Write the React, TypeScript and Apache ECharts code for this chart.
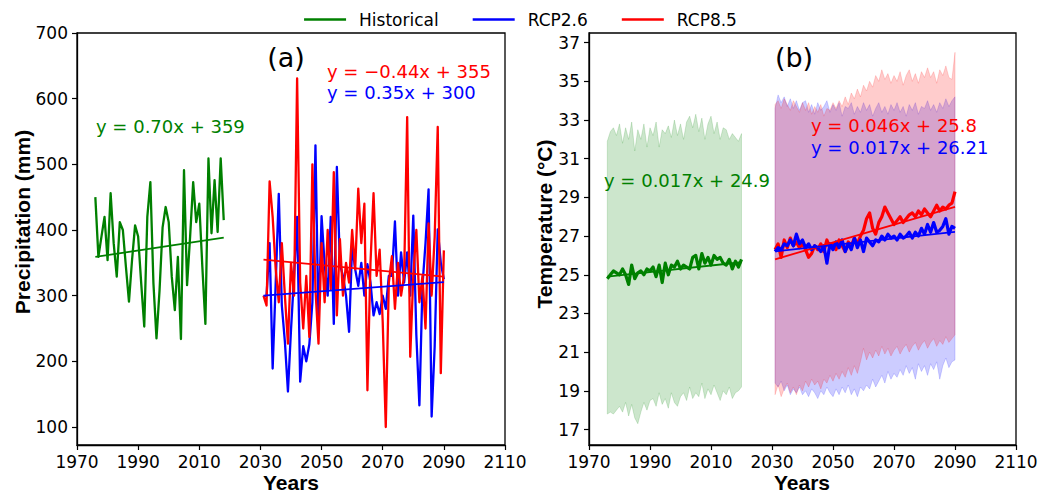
import React, { useEffect, useRef } from "react";
import * as echarts from "echarts";

// ---- axis ticks ----
const yearTicks = [1970, 1990, 2010, 2030, 2050, 2070, 2090, 2110];
const precipTicks = [100, 200, 300, 400, 500, 600, 700];
const tempTicks = [17, 19, 21, 23, 25, 27, 29, 31, 33, 35, 37];

// ---- periods ----
const histPrecipPeriod = [1976, 2018];
const histTempPeriod = [1976, 2020];
const futurePeriod = [2031, 2090];

// ---- annual precipitation (mm) ----
const histPrecip = [
  450, 359, 390, 420, 354, 456, 380, 329, 412, 400,
  344, 291, 354, 407, 390, 319, 253, 420, 473, 319,
  235, 308, 404, 435, 412, 329, 278, 359, 234, 491,
  316, 390, 473, 412, 440, 344, 257, 509, 395, 476,
  397, 509, 415,
];
const rcp26Precip = [
  298, 300, 380, 189, 320, 455, 285, 230, 154, 248,
  330, 420, 169, 223, 200, 226, 290, 529, 257, 421,
  348, 300, 420, 257, 496, 348, 330, 300, 245, 376,
  340, 315, 350, 300, 348, 320, 270, 290, 272, 300,
  280, 330, 330, 413, 300, 366, 320, 366, 300, 422,
  240, 133, 315, 380, 462, 116, 223, 401, 350, 325,
];
const rcp85Precip = [
  300, 285, 474, 420, 340, 290, 380, 300, 227, 350,
  300, 631, 320, 250, 330, 237, 500, 310, 227, 380,
  290, 400, 310, 488, 270, 386, 300, 350, 320, 400,
  340, 463, 380, 440, 156, 350, 456, 330, 370, 260,
  100, 320, 360, 280, 350, 300, 330, 572, 207, 330,
  400, 290, 330, 250, 410, 300, 390, 557, 182, 369,
];

// ---- annual mean temperature (°C) with ensemble range ----
const histTemp = [
  24.8, 25.0, 25.2, 25.1, 25.0, 25.3, 25.0, 24.5, 25.5, 24.8,
  25.1, 25.2, 25.0, 25.3, 25.2, 25.4, 24.9, 25.5, 24.6, 25.6,
  25.0, 25.5, 25.4, 25.7, 25.3, 25.5, 25.4, 25.3, 25.9, 26.0,
  25.3, 26.1, 25.6, 25.9, 25.5, 26.0, 25.8, 25.9, 25.6, 25.5,
  25.8, 25.3, 25.7, 25.4, 25.8,
];
const histTempMax = [
  31.9, 32.4, 32.6, 32.2, 32.8, 31.8, 32.6, 32.0, 32.9, 31.4,
  32.5, 32.0, 32.8, 31.6, 32.6, 32.2, 32.9, 31.6, 32.5, 32.3,
  32.7, 32.1, 33.0, 32.2, 32.8, 32.0, 32.9, 33.2, 32.6, 33.3,
  32.4, 33.1, 32.0, 32.8, 33.2, 32.3, 32.9, 32.0, 32.6, 32.5,
  32.0, 32.3, 32.1, 31.9, 32.3,
];
const histTempMin = [
  17.8, 17.9, 17.8, 18.0, 18.2, 17.9, 18.4, 17.7, 18.3, 17.6,
  17.3, 17.9, 18.4, 18.0, 18.5, 18.6, 18.2, 18.9, 18.3, 18.6,
  18.1, 18.9, 18.4, 18.2, 18.7, 18.9, 18.5, 19.2, 18.6, 18.9,
  18.7, 19.4, 18.6, 19.1, 18.8, 19.3, 18.9, 18.5, 19.0, 18.8,
  19.2, 18.6, 18.9, 19.0, 19.2,
];
const rcp26Temp = [
  26.2, 26.4, 26.3, 26.6, 26.5, 26.8, 26.5, 27.1, 26.6, 26.8,
  26.4, 26.6, 26.3, 26.5, 26.4, 26.2, 26.5, 25.6, 26.6, 26.3,
  26.7, 26.4, 26.8, 26.2, 26.6, 26.3, 26.9, 26.4, 26.8, 26.2,
  26.9, 26.7, 26.5, 26.8, 26.7, 27.0, 26.8, 27.1, 26.9, 27.0,
  26.8, 27.1, 26.9, 27.0, 27.2, 26.9, 27.2, 27.0, 27.4, 27.1,
  27.6, 27.2, 27.7, 27.2, 27.3, 27.5, 27.9, 27.1, 27.5, 27.4,
];
const rcp26TempMax = [
  33.6, 34.3, 33.9, 34.2, 33.7, 34.1, 33.6, 34.0, 33.5, 33.9,
  34.0, 33.4, 33.8, 33.3, 33.9, 33.5, 33.7, 34.0, 33.4, 33.8,
  33.5, 33.9, 33.2, 33.7, 33.6, 33.9, 33.3, 33.7, 33.4, 33.9,
  33.5, 33.8, 33.2, 33.6, 33.9, 33.4, 33.7, 33.3, 33.8, 33.5,
  33.9, 33.4, 33.7, 33.2, 33.8, 33.5, 33.9, 33.3, 33.7, 33.6,
  34.0, 33.5, 33.8, 33.4, 33.9, 33.6, 34.1, 33.7, 34.0, 34.2,
];
const rcp26TempMin = [
  19.4, 19.2, 19.5, 19.0, 19.3, 18.8, 19.1, 18.9, 19.2, 18.8,
  19.0, 18.7, 19.1, 18.9, 18.6, 19.0, 18.8, 19.2, 18.9, 18.7,
  19.1, 18.8, 19.2, 18.9, 19.3, 18.8, 19.1, 18.7, 19.2, 19.0,
  19.3, 19.1, 19.6, 19.2, 19.5, 19.8, 19.4, 20.0, 19.6, 19.9,
  19.7, 20.1, 19.8, 20.3, 19.9, 20.2, 19.6, 20.4, 20.0, 20.3,
  19.8, 20.4, 20.1, 20.5, 19.6, 20.3, 20.7, 20.2, 20.5, 20.6,
];
const rcp85Temp = [
  26.3, 26.6, 25.9, 26.8, 26.4, 26.9, 26.5, 26.7, 26.4, 26.6,
  26.3, 25.9, 26.1, 26.5, 26.3, 26.6, 26.2, 26.8, 26.4, 26.6,
  26.3, 26.8, 26.5, 26.2, 26.7, 26.5, 26.9, 26.6, 27.0, 27.3,
  27.9, 28.2, 27.4, 27.1, 27.7, 28.0, 28.5, 28.2, 27.9, 27.6,
  27.8, 28.0, 27.7, 27.9, 28.1, 28.2, 28.0, 28.3, 28.1, 28.4,
  28.2, 28.0, 28.3, 28.6, 28.3, 28.5, 28.4, 28.6, 28.7, 29.3,
];
const rcp85TempMax = [
  33.8, 34.0, 33.6, 34.1, 33.8, 33.5, 34.0, 33.7, 33.4, 33.9,
  33.5, 33.9, 33.3, 33.7, 33.4, 33.8, 33.2, 33.6, 33.5, 33.9,
  33.6, 34.0, 33.7, 34.2, 33.8, 34.4, 34.1, 34.6, 34.2, 34.8,
  34.5, 35.0, 34.7, 35.3, 35.0, 35.6, 35.1, 35.4, 34.9, 35.3,
  35.0, 35.5, 34.8, 35.3, 35.6, 35.0, 35.4, 34.9, 35.5, 35.2,
  35.7, 35.2, 35.5, 34.9, 35.6, 35.3, 35.8, 35.2, 35.1, 36.5,
];
const rcp85TempMin = [
  18.8, 19.3, 18.7, 19.1, 19.4, 18.9, 19.2, 18.8, 19.3, 19.0,
  19.5, 19.2, 19.6, 19.3, 19.5, 19.1, 19.6, 19.4, 19.8, 19.5,
  19.9, 19.6, 20.0, 19.7, 20.2, 19.8, 20.3, 19.9, 20.5, 21.2,
  20.6, 21.0, 20.7, 21.1, 20.8, 21.3, 20.9, 21.2, 20.8, 21.1,
  21.3, 20.9, 21.2, 21.4, 21.0, 21.3, 21.5, 21.1, 21.4, 21.6,
  21.2, 21.5, 21.7, 21.3, 21.6, 21.4, 21.8, 21.5, 21.7, 21.9,
];

// ---- linear fits: [slope per year index, intercept] ----
const histPrecipFit = [0.7, 359];
const rcp26PrecipFit = [0.35, 300];
const rcp85PrecipFit = [-0.44, 355];
const histTempFit = [0.017, 24.9];
const rcp26TempFit = [0.017, 26.21];
const rcp85TempFit = [0.046, 25.8];

const GREEN = "#008000";
const BLUE = "#0000ff";
const RED = "#ff0000";
const TICK_FONT = "DejaVu Sans";
const TITLE_FONT = "Liberation Sans";

function span(period: number[]): number[] {
  const out: number[] = [];
  for (let y = period[0]; y <= period[1]; y++) out.push(y);
  return out;
}

function pairs(years: number[], vals: number[]) {
  return years.map((y, i) => [y, vals[i]]);
}

function fitEnds(years: number[], fit: number[]) {
  const n = years.length - 1;
  return [
    [years[0], fit[1]],
    [years[n], fit[0] * n + fit[1]],
  ];
}

function line(name: string, data: number[][], color: string, width: number, gi: number, z: number) {
  return {
    type: "line",
    name,
    xAxisIndex: gi,
    yAxisIndex: gi,
    data,
    symbol: "none",
    showSymbol: false,
    silent: true,
    lineStyle: { color, width, join: "round" },
    itemStyle: { color },
    z,
  };
}

function band(name: string, years: number[], upper: number[], lower: number[], fill: string, gi: number, z: number) {
  return {
    type: "custom",
    name,
    xAxisIndex: gi,
    yAxisIndex: gi,
    silent: true,
    z,
    data: [[years[0], upper[0]]],
    renderItem: (_params: any, api: any) => {
      const pts: number[][] = [];
      for (let i = 0; i < years.length; i++) pts.push(api.coord([years[i], upper[i]]));
      for (let i = years.length - 1; i >= 0; i--) pts.push(api.coord([years[i], lower[i]]));
      return {
        type: "polygon",
        shape: { points: pts },
        style: { fill, stroke: fill, lineWidth: 0.8 },
      };
    },
  };
}

function xAxis(gi: number) {
  return {
    type: "value",
    gridIndex: gi,
    min: 1970,
    max: 2110,
    splitLine: { show: false },
    axisLine: { show: true, lineStyle: { color: "#000", width: 1.3 } },
    axisTick: { show: true, customValues: yearTicks, length: 5, lineStyle: { color: "#000", width: 1.2 } },
    axisLabel: {
      customValues: yearTicks,
      formatter: (v: number) => String(v),
      color: "#000",
      fontSize: 17,
      fontFamily: TICK_FONT,
      margin: 8,
    },
  };
}

function yAxis(gi: number, min: number, max: number, ticks: number[]) {
  return {
    type: "value",
    gridIndex: gi,
    min,
    max,
    splitLine: { show: false },
    axisLine: { show: true, lineStyle: { color: "#000", width: 1.3 } },
    axisTick: { show: true, customValues: ticks, length: 5, lineStyle: { color: "#000", width: 1.2 } },
    axisLabel: {
      customValues: ticks,
      formatter: (v: number) => String(v),
      color: "#000",
      fontSize: 17,
      fontFamily: TICK_FONT,
      margin: 9,
    },
  };
}

function label(text: string, x: number, y: number, color: string, size: number, align = "left") {
  return {
    type: "text",
    x,
    y,
    silent: true,
    z: 100,
    style: {
      text,
      fill: color,
      fontSize: size,
      fontFamily: TICK_FONT,
      align,
      verticalAlign: "middle",
    },
  };
}

function title(text: string, x: number, y: number, rotation = 0) {
  return {
    type: "text",
    x,
    y,
    rotation,
    silent: true,
    z: 100,
    style: {
      text,
      fill: "#000",
      fontSize: 21,
      fontWeight: "bold",
      fontFamily: TITLE_FONT,
      align: "center",
      verticalAlign: "middle",
    },
  };
}

export default function App() {
  const ref = useRef<HTMLDivElement>(null);

  useEffect(() => {
    if (!ref.current) return;
    const chart = echarts.init(ref.current, null, { renderer: "svg" });

    const hpYears = span(histPrecipPeriod);
    const htYears = span(histTempPeriod);
    const fYears = span(futurePeriod);

    const option = {
      animation: false,
      backgroundColor: "#fff",
      textStyle: { fontFamily: TICK_FONT },
      legend: {
        data: ["Historical", "RCP2.6", "RCP8.5"],
        top: 6,
        left: "center",
        icon: "rect",
        itemWidth: 42,
        itemHeight: 2.5,
        itemGap: 34,
        selectedMode: false,
        textStyle: { color: "#000", fontSize: 17, fontFamily: TICK_FONT, padding: [0, 0, 0, 8] },
      },
      grid: [
        { left: 77, top: 33, width: 428, height: 412, show: true, borderColor: "#000", borderWidth: 1.3 },
        { left: 589, top: 33, width: 427, height: 412, show: true, borderColor: "#000", borderWidth: 1.3 },
      ],
      xAxis: [xAxis(0), xAxis(1)],
      yAxis: [yAxis(0, 72.6, 700, precipTicks), yAxis(1, 16.2, 37.5, tempTicks)],
      series: [
        // (a) precipitation
        line("Historical", pairs(hpYears, histPrecip), GREEN, 2.3, 0, 3),
        line("Historical", fitEnds(hpYears, histPrecipFit), GREEN, 1.8, 0, 4),
        line("RCP2.6", pairs(fYears, rcp26Precip), BLUE, 2.3, 0, 3),
        line("RCP8.5", pairs(fYears, rcp85Precip), RED, 2.3, 0, 4),
        line("RCP2.6", fitEnds(fYears, rcp26PrecipFit), BLUE, 1.8, 0, 5),
        line("RCP8.5", fitEnds(fYears, rcp85PrecipFit), RED, 1.8, 0, 5),
        // (b) temperature: ensemble range
        band("Historical range", htYears, histTempMax, histTempMin, "rgba(0,128,0,0.2)", 1, 1),
        band("RCP2.6 range", fYears, rcp26TempMax, rcp26TempMin, "rgba(0,0,255,0.2)", 1, 1),
        band("RCP8.5 range", fYears, rcp85TempMax, rcp85TempMin, "rgba(255,0,0,0.2)", 1, 2),
        // (b) temperature: mean and fit
        line("Historical", pairs(htYears, histTemp), GREEN, 3.2, 1, 3),
        line("Historical", fitEnds(htYears, histTempFit), GREEN, 1.8, 1, 4),
        line("RCP8.5", pairs(fYears, rcp85Temp), RED, 3.2, 1, 3),
        line("RCP2.6", pairs(fYears, rcp26Temp), BLUE, 3.2, 1, 4),
        line("RCP8.5", fitEnds(fYears, rcp85TempFit), RED, 1.8, 1, 5),
        line("RCP2.6", fitEnds(fYears, rcp26TempFit), BLUE, 1.8, 1, 5),
      ],
      graphic: [
        label("(a)", 286, 57, "#000", 27, "center"),
        label("y = \u22120.44x + 355", 327, 71, RED, 18),
        label("y = 0.35x + 300", 327, 92, BLUE, 18),
        label("y = 0.70x + 359", 96, 126, GREEN, 18),
        label("(b)", 794, 57, "#000", 27, "center"),
        label("y = 0.046x + 25.8", 811, 125, RED, 18),
        label("y = 0.017x + 26.21", 811, 147, BLUE, 18),
        label("y = 0.017x + 24.9", 604, 180, GREEN, 18),
        title("Years", 291, 482),
        title("Years", 802, 482),
        title("Precipitation (mm)", 22, 222, Math.PI / 2),
        title("Temperature (\u00b0C)", 544, 224, Math.PI / 2),
      ],
    };

    chart.setOption(option as any);
    return () => chart.dispose();
  }, []);

  return (
    <div
      ref={ref}
      style={{ position: "absolute", left: 0, top: 0, width: 1041, height: 493, background: "#fff" }}
    />
  );
}
